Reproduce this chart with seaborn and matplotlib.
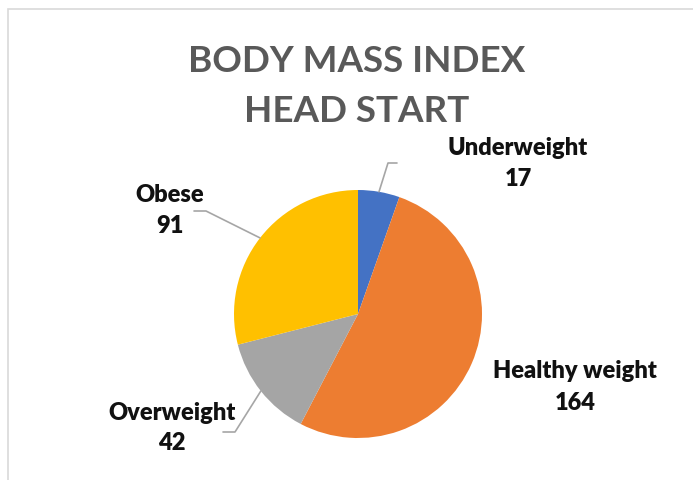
import numpy as np
import matplotlib
matplotlib.use("Agg")
import matplotlib.pyplot as plt
import seaborn as sns
from matplotlib.patches import Rectangle

# -------------------------
# Data
# -------------------------
categories = ["Underweight", "Healthy weight", "Overweight", "Obese"]
counts = [17, 164, 42, 91]
colors = ["#4472C4", "#ED7D31", "#A5A5A5", "#FFC000"]

sns.set_theme(style="white")
plt.rcParams["font.family"] = ["Lato", "DejaVu Sans"]

W, H = 693, 480
fig = plt.figure(figsize=(W / 100, H / 100), dpi=100)
fig.patch.set_facecolor("white")

# chart border
fig.patches.append(Rectangle((8 / W, -0.05), 1.1, (H - 9) / H + 0.05, transform=fig.transFigure,
                             fill=False, edgecolor="#D9D9D9", linewidth=1.2))

# pie axes: center (358, 314) px, radius 124 px
cx, cy, r = 358, 314, 124
ax = fig.add_axes([(cx - r) / W, (H - cy - r) / H, 2 * r / W, 2 * r / H])
wedges, _ = ax.pie(counts, colors=colors, startangle=90, counterclock=False, radius=1,
                   wedgeprops=dict(linewidth=0))
ax.set_xlim(-1, 1)
ax.set_ylim(-1, 1)
ax.set_aspect("equal")
ax.axis("off")


def px(x, y):
    return (x - cx) / r, (cy - y) / r


# label placement (pixel positions of label centre and leader elbows)
label_pos = {
    "Underweight": (518, 164),
    "Healthy weight": (575, 387),
    "Overweight": (172, 428),
    "Obese": (170, 211),
}
leaders = {
    "Underweight": [(388, 163), (397, 163)],
    "Overweight": [(235, 432), (223, 432)],
    "Obese": [(206, 211), (194, 211)],
}

for w, name, val in zip(wedges, categories, counts):
    ang = np.deg2rad((w.theta1 + w.theta2) / 2)
    x0, y0 = np.cos(ang), np.sin(ang)
    if name in leaders:
        pts = [(x0, y0)] + [px(*p) for p in leaders[name]]
        xs, ys = zip(*pts)
        ax.plot(xs, ys, color="#A6A6A6", lw=1.2, clip_on=False)
    lx, ly = px(*label_pos[name])
    ax.text(lx, ly, f"{name}\n{val}", ha="center", va="center", fontsize=17,
            fontweight="heavy", color="#111111", linespacing=1.5)

fig.text(357 / W, 1 - 62 / H, "BODY MASS INDEX", ha="center", va="center",
         fontsize=26.5, fontweight="bold", color="#595959")
fig.text(357 / W, 1 - 112 / H, "HEAD START", ha="center", va="center",
         fontsize=26.5, fontweight="bold", color="#595959")

fig.savefig("out.png", dpi=100)
